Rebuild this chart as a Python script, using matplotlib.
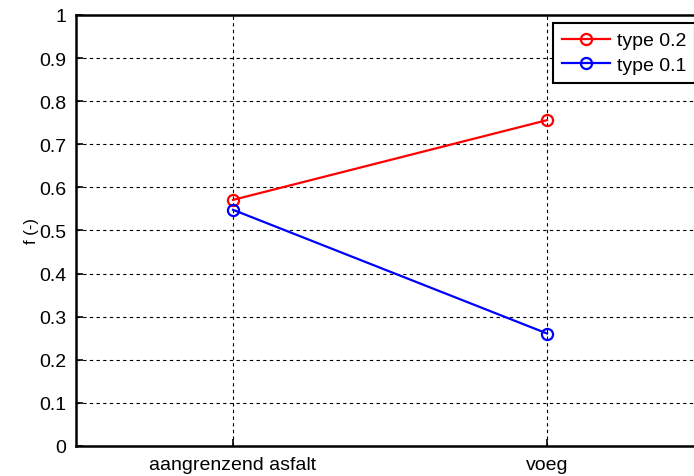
import matplotlib
matplotlib.use("Agg")
import matplotlib.pyplot as plt

categories = ["aangrenzend asfalt", "voeg"]
type_02 = [0.571, 0.756]
type_01 = [0.548, 0.261]
yticks = [0, 0.1, 0.2, 0.3, 0.4, 0.5, 0.6, 0.7, 0.8, 0.9, 1]
ytick_labels = ["0", "0.1", "0.2", "0.3", "0.4", "0.5", "0.6", "0.7", "0.8", "0.9", "1"]

plt.rcParams["font.family"] = ["Liberation Sans", "DejaVu Sans"]
plt.rcParams["font.size"] = 14

fig = plt.figure(figsize=(6.94, 4.77), dpi=100)
ax = fig.add_axes([0.1095, 0.0629, 0.905, 0.9036])

x = list(range(1, len(categories) + 1))
ax.plot(x, type_02, "o-", color="red", lw=1.6, ms=8, mfc="none", mew=1.6, label="type 0.2")
ax.plot(x, type_01, "o-", color="blue", lw=1.6, ms=8, mfc="none", mew=1.6, label="type 0.1")

ax.set_xlim(0.5, 2.5)
ax.set_ylim(0, 1)
ax.set_xticks(x)
ax.set_xticklabels(categories)
ax.set_yticks(yticks)
ax.set_yticklabels(ytick_labels)
ax.set_ylabel("f (-)", fontsize=12, labelpad=0)
ax.tick_params(direction="in", length=5, width=1.2, pad=7)
ax.grid(True, color="black", linestyle=(0, (3, 3)), lw=0.8)
for s in ax.spines.values():
    s.set_linewidth(1.8)

leg = ax.legend(loc="upper left", bbox_to_anchor=(553 / 694, 1 - 24 / 477),
                bbox_transform=fig.transFigure, fancybox=False, framealpha=1,
                edgecolor="black", borderaxespad=0, handlelength=2.5,
                handletextpad=0.35, borderpad=0.45, labelspacing=0.35)
leg.get_frame().set_linewidth(1.5)

fig.savefig("out.png", dpi=100)
